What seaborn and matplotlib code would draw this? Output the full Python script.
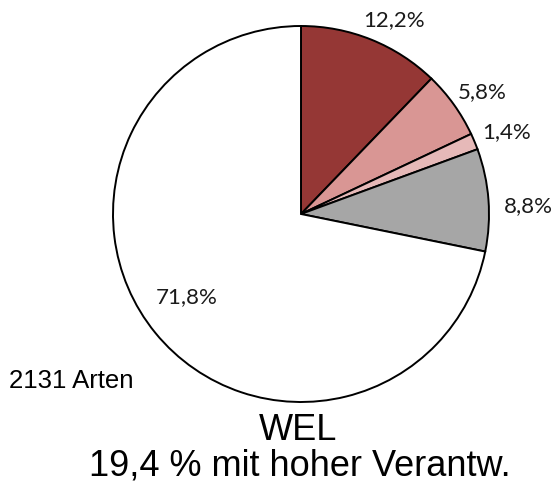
import matplotlib
matplotlib.use("Agg")
import matplotlib.pyplot as plt
import seaborn as sns
import numpy as np

# data
shares = [12.2, 5.8, 1.4, 8.8, 71.8]
labels = ['12,2%', '5,8%', '1,4%', '8,8%', '71,8%']
colors = ['#953735', '#d99694', '#e6b9b8', '#a6a6a6', '#ffffff']
# label placement (distance in radii, angle nudge in degrees)
label_dist = [1.144, 1.161, 1.179, 1.208, 0.75]
label_nudge = [-3.6, -1.6, -1.0, -2.3, -3.2]
total_txt = '2131 Arten'
title_lines = ['WEL', '19,4 % mit hoher Verantw.']

sns.set_theme(style='white')
plt.rcParams['font.family'] = ['Liberation Sans', 'DejaVu Sans']
plt.rcParams['text.color'] = 'black'

fig = plt.figure(figsize=(5.58, 4.82), dpi=100)
ax = fig.add_axes([113/558, 80/482, 376/558, 376/482])

wedges, texts = ax.pie(shares, colors=colors, startangle=90, counterclock=False,
                       labels=labels, labeldistance=1.0, radius=1,
                       wedgeprops=dict(edgecolor='black', linewidth=1.4),
                       textprops=dict(fontsize=16, family='Lato', color='#1a1a1a'))
for t, d, n in zip(texts, label_dist, label_nudge):
    x, y = t.get_position()
    a = np.arctan2(y, x) + np.deg2rad(n)
    t.set_position((d * np.cos(a), d * np.sin(a)))
    t.set_ha('center')
    t.set_va('center')
ax.set_xlim(-1, 1)
ax.set_ylim(-1, 1)
ax.set_aspect('equal')
ax.axis('off')

fig.text(9/558, 1 - 388/482, total_txt, fontsize=18.5, ha='left', va='baseline', color='black')
fig.text(298/558, 1 - 440/482, title_lines[0], fontsize=26, ha='center', va='baseline', color='black')
fig.text(300/558, 1 - 475/482, title_lines[1], fontsize=26, ha='center', va='baseline', color='black')

fig.savefig('out.png', dpi=100)
